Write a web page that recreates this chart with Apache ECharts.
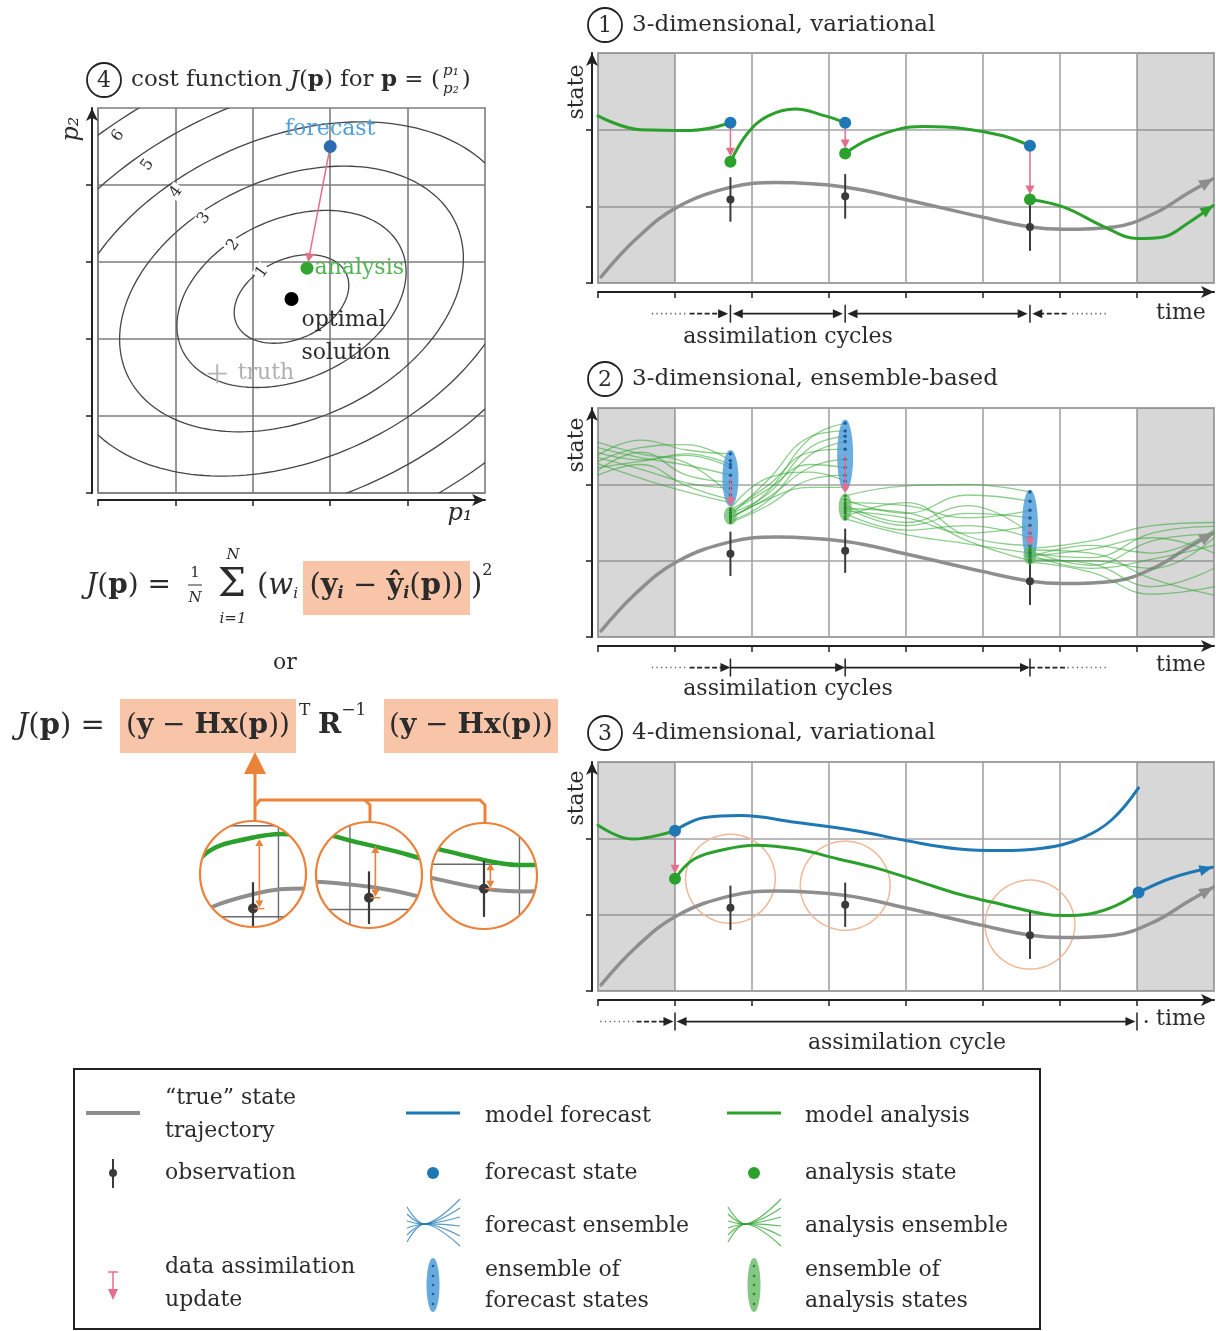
<!DOCTYPE html>
<html>
<head>
<meta charset="utf-8">
<title>Data assimilation schematic</title>
<script src="https://cdn.jsdelivr.net/npm/echarts@6/dist/echarts.min.js"></script>
<style>
html,body{margin:0;padding:0;background:#fff;}
#chart{width:1216px;height:1331px;}
</style>
</head>
<body>
<div id="chart"></div>
<script>
// ================= DATA =================
// Panel 4: cost function J(p) contours (levels and semi-axes in p-units)
const contourLevels = [1, 2, 3, 4, 5, 6];
const contourSemiMajor = [0.78, 1.56, 2.34, 3.12, 3.90, 4.68];
const contourSemiMinor = [0.52, 1.04, 1.56, 2.08, 2.60, 3.12];
const contourCenter = [2.5, 2.52];
const contourTiltDeg = 25;
const contourLabelX = [2.12, 1.75, 1.37, 1.01, 0.64, 0.26];
const contourLabelY = [2.87, 3.22, 3.57, 3.91, 4.26, 4.64];
const costForecast = [3.0, 4.5];
const costAnalysis = [2.7, 2.92];
const costOptimum = [2.5, 2.52];
const costTruth = [1.54, 1.55];

// Panels 1-3: "true" state trajectory and observations
const truthX = [0.04, 0.5, 1.03, 1.73, 2.31, 3.22, 4.03, 4.99, 5.62, 6.05, 6.70, 7.23, 7.66, 7.99];
const truthY = [0.08, 0.58, 0.99, 1.25, 1.31, 1.25, 1.08, 0.86, 0.73, 0.70, 0.73, 0.91, 1.17, 1.36];
const obsX = [1.72, 3.21, 5.61];
const obsY = [1.09, 1.13, 0.73];
const obsErr = [0.29, 0.29, 0.31];

// Panel 1: 3-dimensional, variational
const var3dSeg0X = [0.0, 0.55, 1.2, 1.72];
const var3dSeg0Y = [2.18, 2.00, 1.99, 2.09];
const var3dSeg1X = [1.72, 1.94, 2.21, 2.56, 2.95, 3.21];
const var3dSeg1Y = [1.58, 1.95, 2.18, 2.27, 2.18, 2.09];
const var3dSeg2X = [3.21, 3.49, 3.92, 4.23, 4.78, 5.26, 5.61];
const var3dSeg2Y = [1.69, 1.86, 2.01, 2.04, 2.01, 1.92, 1.79];
const var3dSeg3X = [5.61, 6.05, 6.58, 7.01, 7.34, 7.66, 7.99];
const var3dSeg3Y = [1.09, 0.99, 0.73, 0.58, 0.60, 0.78, 1.01];
const var3dForecastY = [2.09, 2.09, 1.79];
const var3dAnalysisY = [1.58, 1.69, 1.09];

// Panel 2: 3-dimensional, ensemble-based (10 members per cycle segment)
const ensSeg0X = [0.0, 0.55, 1.15, 1.72];
const ensSeg0Y = [
  [2.38, 2.58, 2.45, 2.40], [2.30, 2.48, 2.52, 2.31], [2.22, 2.30, 2.38, 2.22],
  [2.48, 2.35, 2.25, 2.12], [2.18, 2.42, 2.12, 2.03], [2.35, 2.20, 2.02, 1.95],
  [2.55, 2.40, 2.28, 1.86], [2.12, 2.26, 1.98, 1.80], [2.42, 2.32, 2.40, 2.26],
  [2.27, 2.08, 1.90, 1.76]
];
const ensSeg1X = [1.72, 2.2, 2.75, 3.21];
const ensSeg1Y = [
  [1.55, 1.90, 2.60, 2.80], [1.60, 2.05, 2.62, 2.70], [1.52, 1.78, 2.38, 2.56],
  [1.66, 1.98, 2.42, 2.46], [1.58, 1.82, 2.22, 2.33], [1.63, 1.93, 2.26, 2.22],
  [1.50, 1.72, 2.06, 2.12], [1.68, 2.08, 2.16, 2.04], [1.56, 1.80, 1.96, 1.96],
  [1.62, 1.87, 2.48, 2.63]
];
const ensSeg2X = [3.21, 4.0, 4.8, 5.61];
const ensSeg2Y = [
  [1.85, 1.98, 2.00, 1.90], [1.80, 1.62, 1.86, 1.78], [1.76, 1.72, 1.56, 1.66],
  [1.70, 1.46, 1.62, 1.56], [1.65, 1.56, 1.36, 1.46], [1.62, 1.40, 1.46, 1.30],
  [1.58, 1.76, 1.32, 1.20], [1.55, 1.34, 1.22, 1.10], [1.73, 1.50, 1.72, 1.36],
  [1.68, 1.63, 1.26, 1.00]
];
const ensSeg3X = [5.61, 6.4, 7.2, 8.0];
const ensSeg3Y = [
  [1.16, 1.26, 1.46, 1.50], [1.10, 1.04, 1.36, 1.45], [1.05, 1.20, 1.10, 1.40],
  [1.13, 0.94, 1.26, 1.35], [1.00, 1.00, 0.90, 1.30], [1.08, 0.90, 1.02, 1.20],
  [1.02, 0.96, 0.66, 0.90], [1.14, 1.10, 0.76, 0.55], [0.98, 0.85, 0.56, 0.66],
  [1.06, 1.15, 1.30, 1.10]
];
const ensFcCenterY = [2.08, 2.38, 1.45];
const ensFcHalf = [0.37, 0.47, 0.48];
const ensAnCenterY = [1.59, 1.70, 1.07];
const ensAnHalf = [0.12, 0.18, 0.12];

// Panel 3: 4-dimensional, variational
const var4dWindow = [1.0, 7.0];
const var4dPreX = [0.0, 0.45, 1.0];
const var4dPreY = [2.17, 1.99, 2.10];
const var4dFcX = [1.0, 1.37, 1.86, 2.56, 3.35, 4.0, 4.69, 5.23, 5.77, 6.3, 6.68, 7.02];
const var4dFcY = [2.10, 2.27, 2.30, 2.21, 2.10, 1.97, 1.86, 1.84, 1.87, 2.01, 2.25, 2.66];
const var4dAnX = [1.0, 1.25, 1.67, 2.04, 2.58, 3.12, 3.65, 4.18, 4.72, 5.26, 5.79, 6.05, 6.38, 6.75, 7.02];
const var4dAnY = [1.47, 1.73, 1.86, 1.91, 1.86, 1.73, 1.60, 1.43, 1.26, 1.13, 1.01, 0.99, 1.01, 1.13, 1.29];
const var4dNextX = [7.02, 7.45, 7.98];
const var4dNextY = [1.29, 1.48, 1.62];
const var4dFcStateX = [1.0, 7.02];
const var4dFcStateY = [2.10, 1.29];
const var4dAnStateX = [1.0];
const var4dAnStateY = [1.47];
const obsCircleY = [1.47, 1.38, 0.87];      // circles around observations (centre state)
const modelAtObsY = [1.865, 1.71, 1.02];   // analysis trajectory at observation times (Hx)

// ================= STYLE / LAYOUT =================
const FONT = '"DejaVu Serif", "Liberation Serif", serif';
const INK = '#222';
const TXT = '#2b2b2b';
const COL = {
  truth: '#8e8e8e', green: '#2ca02c', blue: '#1f77b4', pink: '#e46f8c', orange: '#ec8239',
  peach: '#f1b797', hl: '#f8c5a9', obs: '#3a3a3a', shade: 'rgba(110,110,110,0.28)',
  ens: 'rgba(50,165,50,0.55)'
};
const OBS_RADIUS = 0.583;       // radius of observation circles, in time units
const insetPos = [[253, 874], [369, 875], [484, 876]];
const INSET_R = 53;

// ================= HELPERS =================
const S = [], G = [];
const zip = (xs, ys) => xs.map((x, i) => [x, ys[i]]);
function seg(a, b, color, w, dash) {
  return { type: 'line', shape: { x1: a[0], y1: a[1], x2: b[0], y2: b[1] },
    style: { stroke: color, lineWidth: w, lineDash: dash || null, fill: 'none' } };
}
function head(p, q, len, hw, color) {
  const dx = q[0] - p[0], dy = q[1] - p[1], L = Math.hypot(dx, dy) || 1;
  const ux = dx / L, uy = dy / L, bx = q[0] - ux * len, by = q[1] - uy * len;
  return { type: 'polygon', shape: { points: [[q[0], q[1]], [bx - uy * hw, by + ux * hw], [bx + uy * hw, by - ux * hw]] },
    style: { fill: color, stroke: 'none' } };
}
function arrow(p, q, color, w, shorten, len, hw) {
  const dx = q[0] - p[0], dy = q[1] - p[1], L = Math.hypot(dx, dy) || 1;
  const ux = dx / L, uy = dy / L;
  const tip = [q[0] - ux * shorten, q[1] - uy * shorten];
  const base = [tip[0] - ux * len * 0.7, tip[1] - uy * len * 0.7];
  return [seg(p, base, color, w), head(p, tip, len, hw, color)];
}
function custom(gi, fn, extra) {
  return Object.assign({
    type: 'custom', xAxisIndex: gi, yAxisIndex: gi, data: [[0, 0]], silent: true, animation: false, z: 3,
    renderItem: (params, api) => ({ type: 'group', children: fn(api) })
  }, extra || {});
}
function curve(gi, xs, ys, color, width, z, smooth) {
  return { type: 'line', xAxisIndex: gi, yAxisIndex: gi, data: zip(xs, ys),
    smooth: smooth == null ? 0.4 : smooth, symbol: 'none', showSymbol: false,
    lineStyle: { color, width, cap: 'round', join: 'round' }, silent: true, animation: false, z: z || 3, clip: true };
}
function pts(gi, xs, ys, color, size, z, label, symbol) {
  return { type: 'scatter', xAxisIndex: gi, yAxisIndex: gi, data: zip(xs, ys), symbol: symbol || 'circle',
    symbolSize: size, itemStyle: { color, opacity: 1 }, label: label || { show: false },
    silent: true, animation: false, z: z || 6, clip: false };
}
function endHead(gi, xs, ys, color, len, hw) {
  return custom(gi, api => {
    const n = xs.length;
    return [head(api.coord([xs[n - 2], ys[n - 2]]), api.coord([xs[n - 1], ys[n - 1]]), len || 14, hw || 6, color)];
  }, { z: 4, clip: false });
}
function ellipsePts(cx, cy, rx, ry, n) {
  const out = [];
  for (let k = 0; k < n; k++) { const t = k / n * Math.PI * 2; out.push([cx + rx * Math.cos(t), cy + ry * Math.sin(t)]); }
  return out;
}
const shadeRanges = [[0, 1], [7, 8]];
function shade(gi) {
  return custom(gi, api => shadeRanges.map(r => {
    const a = api.coord([r[0], 3]), b = api.coord([r[1], 0]);
    return { type: 'rect', shape: { x: a[0], y: a[1], width: b[0] - a[0], height: b[1] - a[1] }, style: { fill: COL.shade } };
  }), { z: 1, clip: true });
}
function obsMarks(gi, w, size, z) {
  S.push(custom(gi, api => obsX.map((x, i) =>
    seg(api.coord([x, obsY[i] - obsErr[i]]), api.coord([x, obsY[i] + obsErr[i]]), COL.obs, w)), { z: z || 5, clip: true }));
  S.push(pts(gi, obsX, obsY, COL.obs, size, (z || 5) + 1));
}
function cycleAnno(gi, items) {
  return custom(gi, api => {
    const Y = -0.4, ch = [];
    const P = x => api.coord([x, Y]);
    items.forEach(([k, a, b]) => {
      const p = P(a);
      if (k === 'dot') ch.push(seg(p, P(b), '#555', 1.6, [1.2, 3.4]));
      else if (k === 'dash') ch.push(seg(p, P(b), INK, 1.8, [5, 2.5]));
      else if (k === 'line') ch.push(seg(p, P(b), INK, 1.8));
      else if (k === 'bar') ch.push(seg([p[0], p[1] - 9], [p[0], p[1] + 9], INK, 1.5));
      else if (k === 'R') ch.push(head([p[0] - 10, p[1]], p, 10, 4.5, INK));
      else if (k === 'L') ch.push(head([p[0] + 10, p[1]], p, 10, 4.5, INK));
      else if (k === 'pt') ch.push({ type: 'circle', shape: { cx: p[0], cy: p[1], r: 1.4 }, style: { fill: INK } });
    });
    return ch;
  }, { clip: false, z: 5 });
}

// text helpers (graphic)
const mctx = document.createElement('canvas').getContext('2d');
function mw(p) { mctx.font = (p.it ? 'italic ' : '') + (p.b ? 'bold ' : '') + p.fs + 'px "DejaVu Serif"'; return mctx.measureText(p.t).width; }
function T(x, y, t, o) {
  o = o || {};
  G.push({ type: 'text', x, y, z: o.z || 10, rotation: o.rot || 0, silent: true,
    style: { text: t, fontFamily: 'DejaVu Serif', fontSize: o.fs || 22, fontStyle: o.it ? 'italic' : 'normal',
      fontWeight: o.b ? 'bold' : 'normal', fill: o.c || TXT, textAlign: o.align || 'left', align: o.align || 'left',
      textVerticalAlign: 'middle', verticalAlign: 'middle' } });
}
function flow(x, y, pieces, align) {
  pieces.forEach(p => { p.fs = p.fs || 22; });
  const ws = pieces.map(mw), tot = ws.reduce((a, b) => a + b, 0);
  let cx = align === 'center' ? x - tot / 2 : align === 'right' ? x - tot : x;
  pieces.forEach((p, i) => { T(cx, y + (p.dy || 0), p.t, p); cx += ws[i]; });
  return cx;
}
function gLine(points, color, w, z, dash) {
  G.push({ type: 'polyline', z: z || 10, silent: true, shape: { points }, style: { stroke: color, lineWidth: w, fill: 'none', lineDash: dash || null } });
}
function gPoly(points, color, z) { G.push({ type: 'polygon', z: z || 10, silent: true, shape: { points }, style: { fill: color, stroke: 'none' } }); }
function gCircle(cx, cy, r, fill, stroke, w, z) { G.push({ type: 'circle', z: z || 10, silent: true, shape: { cx, cy, r }, style: { fill: fill || 'none', stroke: stroke || 'none', lineWidth: w || 1 } }); }
function gRect(x, y, w, h, fill, stroke, lw, z) { G.push({ type: 'rect', z: z || 5, silent: true, shape: { x, y, width: w, height: h }, style: { fill: fill || 'none', stroke: stroke || 'none', lineWidth: lw || 1 } }); }

// ================= GRIDS & AXES =================
const grids = [
  { left: 98, top: 108, width: 387, height: 385, show: true, borderColor: '#7d7d7d', borderWidth: 1.6 },
  { left: 598, top: 53, width: 616, height: 230, show: true, borderColor: '#a3a3a3', borderWidth: 1.8 },
  { left: 598, top: 408, width: 616, height: 229, show: true, borderColor: '#a3a3a3', borderWidth: 1.8 },
  { left: 598, top: 762, width: 616, height: 229, show: true, borderColor: '#a3a3a3', borderWidth: 1.8 }
];
insetPos.forEach(([cx, cy]) => grids.push({ left: cx - INSET_R, top: cy - INSET_R, width: 2 * INSET_R, height: 2 * INSET_R, show: false }));
grids.forEach(g => { g.containLabel = false; g.outerBoundsMode = 'none'; });

function mainAxis(gi, min, max, offset, ticks, splitColor) {
  return { gridIndex: gi, type: 'value', min, max, interval: 1, offset,
    axisLine: { show: true, onZero: false, symbol: ['none', 'arrow'], symbolSize: [9, 13], lineStyle: { color: INK, width: 2 } },
    axisTick: { show: true, length: 6, inside: false, customValues: ticks, lineStyle: { color: INK, width: 1.5 } },
    axisLabel: { show: false }, splitLine: { show: true, lineStyle: { color: splitColor, width: 1.6 } } };
}
const xAxes = [
  mainAxis(0, 0, 5, 7, [0, 1, 2, 3, 4], '#7d7d7d'),
  mainAxis(1, 0, 8, 9, [0, 1, 2, 3, 4, 5, 6, 7], '#a3a3a3'),
  mainAxis(2, 0, 8, 9, [0, 1, 2, 3, 4, 5, 6, 7], '#a3a3a3'),
  mainAxis(3, 0, 8, 9, [0, 1, 2, 3, 4, 5, 6, 7], '#a3a3a3')
];
const yAxes = [
  mainAxis(0, 0, 5, 6, [0, 1, 2, 3, 4], '#7d7d7d'),
  mainAxis(1, 0, 3, 6, [0, 1, 2], '#a3a3a3'),
  mainAxis(2, 0, 3, 6, [0, 1, 2], '#a3a3a3'),
  mainAxis(3, 0, 3, 6, [0, 1, 2], '#a3a3a3')
];
obsX.forEach((x, i) => {
  xAxes.push({ gridIndex: 4 + i, type: 'value', min: x - OBS_RADIUS, max: x + OBS_RADIUS, show: false, splitLine: { show: false } });
  yAxes.push({ gridIndex: 4 + i, type: 'value', min: obsCircleY[i] - OBS_RADIUS, max: obsCircleY[i] + OBS_RADIUS, show: false, splitLine: { show: false } });
});

// ================= PANEL 4: cost function =================
S.push(custom(0, api => {
  const ch = [], th = contourTiltDeg * Math.PI / 180;
  contourLevels.forEach((lv, k) => {
    const a = contourSemiMajor[k], b = contourSemiMinor[k], P = [];
    for (let i = 0; i <= 200; i++) {
      const t = i / 200 * Math.PI * 2, ex = a * Math.cos(t), ey = b * Math.sin(t);
      P.push(api.coord([contourCenter[0] + ex * Math.cos(th) - ey * Math.sin(th), contourCenter[1] + ex * Math.sin(th) + ey * Math.cos(th)]));
    }
    ch.push({ type: 'polyline', shape: { points: P }, style: { stroke: '#454545', lineWidth: 1.3, fill: 'none' } });
  });
  contourLevels.forEach((lv, k) => {
    const p = api.coord([contourLabelX[k], contourLabelY[k]]);
    ch.push({ type: 'text', x: p[0], y: p[1], rotation: 0.95,
      style: { text: String(lv), fontFamily: 'DejaVu Serif', fontSize: 16, fill: '#333', align: 'center', verticalAlign: 'middle',
        textAlign: 'center', textVerticalAlign: 'middle', backgroundColor: '#fff', padding: [0, 2] } });
  });
  return ch;
}, { clip: true, z: 2 }));
S.push(custom(0, api => arrow(api.coord(costForecast), api.coord(costAnalysis), COL.pink, 1.5, 6, 9, 4.5), { z: 4, clip: false }));
S.push(pts(0, [costForecast[0]], [costForecast[1]], '#2b6cb0', 13, 6,
  { show: true, formatter: 'forecast', position: 'top', distance: 0, color: '#4fa0dc', fontSize: 22, fontFamily: FONT }));
S.push(pts(0, [costAnalysis[0]], [costAnalysis[1]], '#33a533', 13, 6,
  { show: true, formatter: 'analysis', position: 'right', distance: 1, color: '#52b552', fontSize: 22, fontFamily: FONT }));
S.push(pts(0, [costOptimum[0]], [costOptimum[1]], '#000', 14, 6,
  { show: true, formatter: 'optimal\nsolution', position: 'right', distance: 3, offset: [0, 38], align: 'left', lineHeight: 33, color: '#2b2b2b', fontSize: 22, fontFamily: FONT }));
S.push(pts(0, [costTruth[0]], [costTruth[1]], '#b3b3b3', 19, 6,
  { show: true, formatter: 'truth', position: 'right', distance: 11, color: '#b0b0b0', fontSize: 22, fontFamily: FONT },
  'path://M9,0h2v9h9v2h-9v9h-2v-9h-9v-2h9z'));

// ================= PANEL 1: 3D-Var =================
S.push(shade(1));
S.push(curve(1, truthX, truthY, COL.truth, 3.5, 3));
S.push(endHead(1, truthX, truthY, COL.truth));
[[var3dSeg0X, var3dSeg0Y], [var3dSeg1X, var3dSeg1Y], [var3dSeg2X, var3dSeg2Y], [var3dSeg3X, var3dSeg3Y]]
  .forEach(([xs, ys]) => S.push(curve(1, xs, ys, COL.green, 3, 4)));
S.push(endHead(1, var3dSeg3X, var3dSeg3Y, COL.green, 13, 5.5));
obsMarks(1, 2, 8);
S.push(custom(1, api => obsX.flatMap((x, i) => arrow(api.coord([x, var3dForecastY[i]]), api.coord([x, var3dAnalysisY[i]]), COL.pink, 1.5, 5, 9, 4.5)), { z: 6, clip: false }));
S.push(pts(1, obsX, var3dForecastY, COL.blue, 12, 7));
S.push(pts(1, obsX, var3dAnalysisY, COL.green, 12, 7));
{
  const o = obsX, d = 0.03;
  S.push(cycleAnno(1, [['dot', 0.70, 1.17], ['dash', 1.19, o[0] - 0.12], ['R', o[0] - d], ['bar', o[0]], ['L', o[0] + d],
    ['line', o[0] + 0.12, o[1] - 0.12], ['R', o[1] - d], ['bar', o[1]], ['L', o[1] + d],
    ['line', o[1] + 0.12, o[2] - 0.12], ['R', o[2] - d], ['bar', o[2]], ['L', o[2] + d],
    ['dash', o[2] + 0.12, 6.11], ['dot', 6.16, 6.6]]));
}

// ================= PANEL 2: ensemble =================
S.push(shade(2));
[[ensSeg0X, ensSeg0Y], [ensSeg1X, ensSeg1Y], [ensSeg2X, ensSeg2Y], [ensSeg3X, ensSeg3Y]].forEach(([xs, members]) =>
  members.forEach(ys => S.push(curve(2, xs, ys, COL.ens, 1.3, 3, 0.45))));
S.push(curve(2, truthX, truthY, COL.truth, 3.5, 2));
S.push(endHead(2, truthX, truthY, COL.truth));
obsMarks(2, 2, 8);
S.push(custom(2, api => {
  const ch = [];
  obsX.forEach((x, i) => {
    const c = api.coord([x, ensFcCenterY[i]]), ry = api.size([0, ensFcHalf[i]])[1];
    ch.push({ type: 'polygon', shape: { points: ellipsePts(c[0], c[1], 8, ry, 60) }, style: { fill: 'rgba(76,156,216,0.82)', stroke: 'none' } });
    const g = api.coord([x, ensAnCenterY[i]]), gy = api.size([0, ensAnHalf[i]])[1];
    ch.push({ type: 'polygon', shape: { points: ellipsePts(g[0], g[1], 6.5, gy, 60) }, style: { fill: 'rgba(100,185,100,0.75)', stroke: 'none' } });
  });
  return ch;
}, { z: 5, clip: false }));
{
  const fx = [], fy = [], ax = [], ay = [];
  [ensSeg0Y, ensSeg1Y, ensSeg2Y].forEach((members, i) => members.forEach(m => { fx.push(obsX[i]); fy.push(m[m.length - 1]); }));
  [ensSeg1Y, ensSeg2Y, ensSeg3Y].forEach((members, i) => members.forEach(m => { ax.push(obsX[i]); ay.push(m[0]); }));
  S.push(pts(2, fx, fy, '#1d5d9e', 3.5, 6));
  S.push(pts(2, ax, ay, '#2a8a2a', 3, 6));
}
S.push(custom(2, api => obsX.flatMap((x, i) => arrow(api.coord([x, ensFcCenterY[i]]), api.coord([x, ensAnCenterY[i] + ensAnHalf[i]]), COL.pink, 1.5, 0, 9, 4.5)), { z: 7, clip: false }));
{
  const o = obsX;
  S.push(cycleAnno(2, [['dot', 0.70, 1.17], ['dash', 1.19, o[0] - 0.1], ['R', o[0]], ['bar', o[0]],
    ['line', o[0], o[1] - 0.1], ['R', o[1]], ['bar', o[1]], ['line', o[1], o[2] - 0.1], ['R', o[2]], ['bar', o[2]],
    ['dash', o[2], 6.11], ['dot', 6.16, 6.6]]));
}

// ================= PANEL 3: 4D-Var =================
S.push(shade(3));
S.push(curve(3, truthX, truthY, COL.truth, 3.5, 3));
S.push(endHead(3, truthX, truthY, COL.truth));
S.push(custom(3, api => obsX.map((x, i) => {
  const c = api.coord([x, obsCircleY[i]]), s = api.size([OBS_RADIUS, OBS_RADIUS]);
  return { type: 'polygon', shape: { points: ellipsePts(c[0], c[1], s[0], s[1], 90) }, style: { fill: 'none', stroke: COL.peach, lineWidth: 1.5 } };
}), { z: 2, clip: false }));
S.push(curve(3, var4dPreX, var4dPreY, COL.green, 3, 4));
S.push(curve(3, var4dFcX, var4dFcY, COL.blue, 3, 4));
S.push(curve(3, var4dAnX, var4dAnY, COL.green, 3, 4));
S.push(curve(3, var4dNextX, var4dNextY, COL.blue, 3, 4));
S.push(endHead(3, var4dNextX, var4dNextY, COL.blue, 13, 5.5));
obsMarks(3, 2, 8);
S.push(custom(3, api => arrow(api.coord([var4dFcStateX[0], var4dFcStateY[0]]), api.coord([var4dAnStateX[0], var4dAnStateY[0]]), COL.pink, 1.5, 5, 9, 4.5), { z: 6, clip: false }));
S.push(pts(3, var4dFcStateX, var4dFcStateY, COL.blue, 12, 7));
S.push(pts(3, var4dAnStateX, var4dAnStateY, COL.green, 12, 7));
{
  const w = var4dWindow;
  S.push(cycleAnno(3, [['dot', 0.03, 0.48], ['dash', 0.5, w[0] - 0.12], ['R', w[0] - 0.02], ['bar', w[0]], ['L', w[0] + 0.02],
    ['line', w[0] + 0.12, w[1] - 0.12], ['R', w[1] - 0.02], ['bar', w[1]], ['pt', 7.12]]));
}

// ================= INSETS (magnified panel-3 regions) =================
obsX.forEach((x, i) => {
  const gi = 4 + i;
  S.push(custom(gi, api => {
    const ch = [], xr = [x - OBS_RADIUS, x + OBS_RADIUS], yr = [obsCircleY[i] - OBS_RADIUS, obsCircleY[i] + OBS_RADIUS];
    for (let v = Math.ceil(xr[0]); v <= xr[1]; v++) ch.push(seg(api.coord([v, yr[0]]), api.coord([v, yr[1]]), '#6a6a6a', 1.4));
    for (let v = Math.ceil(yr[0]); v <= yr[1]; v++) ch.push(seg(api.coord([xr[0], v]), api.coord([xr[1], v]), '#6a6a6a', 1.4));
    return ch;
  }, { z: 1, clip: true }));
  S.push(curve(gi, truthX, truthY, COL.truth, 4, 3));
  S.push(curve(gi, var4dAnX, var4dAnY, COL.green, 4.5, 4));
  S.push(custom(gi, api => [seg(api.coord([x, obsY[i] - obsErr[i]]), api.coord([x, obsY[i] + obsErr[i]]), COL.obs, 2.2)], { z: 5, clip: true }));
  S.push(pts(gi, [x], [obsY[i]], COL.obs, 10, 6));
  S.push(custom(gi, api => {
    const xa = x + 0.07, p = api.coord([xa, modelAtObsY[i]]), q = api.coord([xa, obsY[i]]);
    return [seg([p[0], p[1] + 4], [q[0], q[1] - 4], COL.orange, 1.6),
      head(q, [p[0], p[1] + 1], 7, 4, COL.orange), head(p, [q[0], q[1] - 1], 7, 4, COL.orange),
      seg([q[0] - 5, q[1]], [q[0] + 5, q[1]], COL.orange, 1.4)];
  }, { z: 7, clip: true }));
});
insetPos.forEach(([cx, cy]) => {
  const r = INSET_R, L = cx - r - 3, R = cx + r + 3, Tp = cy - r - 3, B = cy + r + 3;
  const P = [[L, Tp], [R, Tp], [R, B], [L, B], [L, Tp]];
  for (let k = 0; k <= 180; k++) { const a = (225 - k * 2) * Math.PI / 180; P.push([cx + r * Math.cos(a), cy + r * Math.sin(a)]); }
  P.push([L, Tp]);
  gPoly(P, '#fff', 50);
  gCircle(cx, cy, r, 'none', COL.orange, 2.2, 51);
});
// connector to the formula
gLine([[255, 822], [255, 770]], COL.orange, 3, 60);
gPoly([[255, 752], [244, 774], [266, 774]], COL.orange, 60);
gLine([[255, 806], [260, 800], [480, 800], [485, 805], [485, 823]], COL.orange, 3, 60);
gLine([[365, 800], [370, 805], [370, 823]], COL.orange, 3, 60);

// ================= TEXT: titles, axes labels =================
function numCircle(cx, cy, n) { gCircle(cx, cy, 17, '#fff', INK, 1.8, 9); T(cx, cy + 1, n, { fs: 22, align: 'center' }); }
numCircle(104, 80, '4');
{
  const e = flow(131, 80, [{ t: 'cost function ', fs: 23 }, { t: 'J', it: 1, fs: 23 }, { t: '(', fs: 23 }, { t: 'p', b: 1, fs: 23 },
    { t: ') for ', fs: 23 }, { t: 'p', b: 1, fs: 23 }, { t: ' = (', fs: 23 }]);
  T(e + 11, 71, 'p₁', { fs: 15, it: 1, align: 'center' });
  T(e + 11, 89, 'p₂', { fs: 15, it: 1, align: 'center' });
  T(e + 22, 80, ')', { fs: 23 });
}
T(72, 129, 'p₂', { fs: 24, it: 1, align: 'center', rot: Math.PI / 2 });
T(460, 514, 'p₁', { fs: 24, it: 1, align: 'center' });

numCircle(605, 25, '1');
T(632, 25, '3-dimensional, variational', { fs: 23 });
numCircle(605, 379, '2');
T(632, 379, '3-dimensional, ensemble-based', { fs: 23 });
numCircle(605, 733, '3');
T(632, 733, '4-dimensional, variational', { fs: 23 });
[92, 445, 798].forEach(y => T(577, y, 'state', { rot: Math.PI / 2, align: 'center' }));
[313, 665, 1019].forEach(y => T(1181, y, 'time', { align: 'center' }));
T(788, 337, 'assimilation cycles', { align: 'center' });
T(788, 689, 'assimilation cycles', { align: 'center' });
T(907, 1043, 'assimilation cycle', { align: 'center' });

// ================= FORMULAS =================
flow(171, 586, [{ t: 'J', it: 1, fs: 28 }, { t: '(', fs: 28 }, { t: 'p', b: 1, fs: 28 }, { t: ') =', fs: 28 }], 'right');
T(195, 573, '1', { fs: 15, align: 'center' });
gLine([[188, 585], [202, 585]], TXT, 1, 10);
T(195, 598, 'N', { fs: 15, it: 1, align: 'center' });
T(232, 586, 'Σ', { fs: 40, align: 'center' });
T(233, 555, 'N', { fs: 15, it: 1, align: 'center' });
T(233, 619, 'i=1', { fs: 15, it: 1, align: 'center' });
flow(257, 586, [{ t: '(', fs: 29 }, { t: 'w', it: 1, fs: 29 }, { t: 'i', it: 1, fs: 15, dy: 8 }]);
gRect(303, 561, 167, 54, COL.hl);
flow(386.5, 586, [{ t: '(', fs: 29 }, { t: 'y', b: 1, fs: 29 }, { t: 'i', it: 1, b: 1, fs: 16, dy: 8 }, { t: ' − ', fs: 29 },
  { t: 'ŷ', b: 1, fs: 29 }, { t: 'i', it: 1, b: 1, fs: 16, dy: 8 }, { t: '(', fs: 29 }, { t: 'p', b: 1, fs: 29 }, { t: '))', fs: 29 }], 'center');
flow(471, 586, [{ t: ')', fs: 29 }, { t: '2', fs: 16, dy: -15 }]);
T(285, 663, 'or', { align: 'center' });

const hxPieces = () => [{ t: '(', fs: 28 }, { t: 'y', b: 1, fs: 28 }, { t: ' − ', fs: 28 }, { t: 'Hx', b: 1, fs: 28 }, { t: '(', fs: 28 }, { t: 'p', b: 1, fs: 28 }, { t: '))', fs: 28 }];
flow(114, 726, [{ t: 'J', it: 1, fs: 29 }, { t: '(', fs: 29 }, { t: 'p', b: 1, fs: 29 }, { t: ') = ', fs: 29 }], 'right');
gRect(120, 699, 176, 54, COL.hl);
flow(208, 726, hxPieces(), 'center');
T(299, 711, 'T', { fs: 17 });
flow(318, 726, [{ t: 'R', b: 1, fs: 28 }, { t: '−1', fs: 17, dy: -15 }]);
gRect(384, 699, 174, 54, COL.hl);
flow(471, 726, hxPieces(), 'center');

// ================= LEGEND =================
gRect(74, 1069, 966, 260, 'none', '#222', 2, 10);
gLine([[86, 1113], [140, 1113]], COL.truth, 4);
gLine([[406, 1113], [460, 1113]], COL.blue, 3);
gLine([[727, 1113], [781, 1113]], COL.green, 3);
gLine([[113, 1159], [113, 1188]], COL.obs, 2);
gCircle(113, 1173, 4, COL.obs);
gCircle(433, 1173, 6, COL.blue);
gCircle(754, 1173, 6, COL.green);
{
  const ly = [1207, 1214, 1221, 1228, 1235, 1242], ry = [1199, 1208, 1217, 1226, 1236, 1246];
  ly.forEach((l, k) => {
    G.push({ type: 'polyline', z: 10, silent: true, shape: { points: [[407, l], [425, 1224], [460, ry[k]]], smooth: 0.4 }, style: { stroke: 'rgba(31,119,180,0.75)', lineWidth: 1.2, fill: 'none' } });
    G.push({ type: 'polyline', z: 10, silent: true, shape: { points: [[728, l], [746, 1224], [781, ry[k]]], smooth: 0.4 }, style: { stroke: 'rgba(44,160,44,0.75)', lineWidth: 1.2, fill: 'none' } });
  });
}
gLine([[108, 1272], [118, 1272]], COL.pink, 1.5);
gLine([[113, 1272], [113, 1291]], COL.pink, 1.5);
gPoly([[113, 1300], [108, 1289], [118, 1289]], COL.pink);
gPoly(ellipsePts(433, 1285, 6.5, 27, 60), 'rgba(76,156,216,0.85)');
gPoly(ellipsePts(754, 1285, 6.5, 27, 60), 'rgba(100,185,100,0.8)');
[1266, 1276, 1285, 1294, 1304].forEach(y => { gCircle(433, y, 1.3, '#1d5d9e', null, 1, 11); gCircle(754, y, 1.3, '#2a8a2a', null, 1, 11); });

T(165, 1098, '“true” state'); T(165, 1131, 'trajectory');
T(165, 1173, 'observation');
T(165, 1267, 'data assimilation'); T(165, 1300, 'update');
T(485, 1116, 'model forecast'); T(485, 1173, 'forecast state'); T(485, 1226, 'forecast ensemble');
T(485, 1270, 'ensemble of'); T(485, 1301, 'forecast states');
T(805, 1116, 'model analysis'); T(805, 1173, 'analysis state'); T(805, 1226, 'analysis ensemble');
T(805, 1270, 'ensemble of'); T(805, 1301, 'analysis states');

// ================= RENDER =================
const chart = echarts.init(document.getElementById('chart'), null, { renderer: 'canvas', width: 1216, height: 1331 });
chart.setOption({
  animation: false,
  backgroundColor: '#fff',
  textStyle: { fontFamily: FONT },
  grid: grids,
  xAxis: xAxes,
  yAxis: yAxes,
  series: S,
  graphic: { elements: G }
});
</script>
</body>
</html>
